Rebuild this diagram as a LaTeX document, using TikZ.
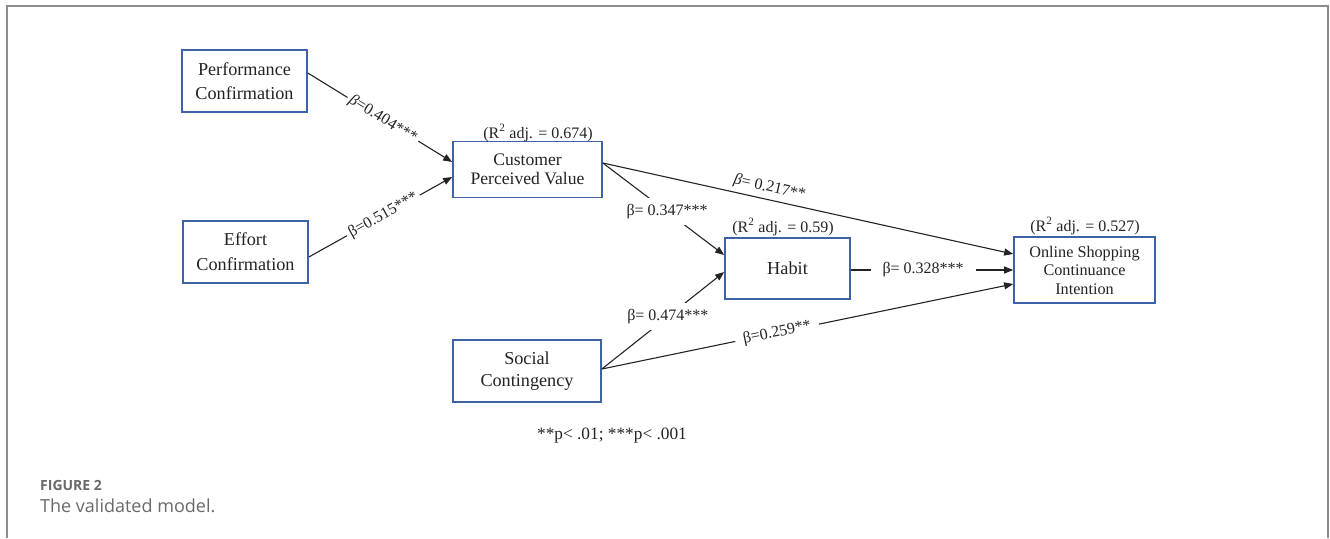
\documentclass[tikz,border=0pt]{standalone}
\usepackage{fontspec}
\setmainfont{Liberation Serif}
\newfontfamily\capfont{Open Sans}
\usetikzlibrary{arrows.meta,calc}
\definecolor{boxblue}{RGB}{62,98,168}
\definecolor{framegray}{RGB}{140,140,140}
\definecolor{capgray}{RGB}{105,105,105}
\definecolor{inkc}{RGB}{35,35,35}
\begin{document}
\begin{tikzpicture}[x=1pt,y=-1pt,
  box/.style={draw=boxblue,line width=1.7pt,inner sep=0pt,align=center,text=inkc},
  link/.style={draw=inkc,line width=1.1pt,-{Triangle[length=9pt,width=7pt]}},
  coef/.style={font=\fontsize{16}{18}\selectfont,text=inkc,fill=white,inner sep=3pt},
  rsq/.style={font=\fontsize{16}{18}\selectfont,text=inkc,inner sep=0pt}]
\useasboundingbox (0,0) rectangle (1330,538);
\draw[framegray,line width=1.5pt] (7,538) -- (7,6) -- (1328,6) -- (1328,538);

% boxes
\node[box,minimum width=125pt,minimum height=62pt,font=\fontsize{18.2}{24}\selectfont] (pc) at (244.5,81) {Performance\\Confirmation};
\node[box,minimum width=125pt,minimum height=62pt,font=\fontsize{18.2}{25}\selectfont] (ec) at (245.5,252) {Effort\\Confirmation};
\node[box,minimum width=149pt,minimum height=56pt,font=\fontsize{17.6}{19}\selectfont] (cpv) at (527.5,169.5) {Customer\\Perceived Value};
\node[box,minimum width=125pt,minimum height=61pt,font=\fontsize{18.3}{20}\selectfont] (habit) at (787.5,268.5) {Habit};
\node[box,minimum width=141pt,minimum height=66pt,font=\fontsize{16.2}{18.5}\selectfont] (osci) at (1084.5,270) {Online Shopping\\Continuance\\Intention};
\node[box,minimum width=148pt,minimum height=62pt,font=\fontsize{18.2}{22}\selectfont] (sc) at (527,371) {Social\\Contingency};

% R2 labels
\node[rsq] (r1) at (538,133) {(R\textsuperscript{2} adj. = 0.674)};
\node[rsq] (r2) at (783,227) {(R\textsuperscript{2} adj. = 0.59)};
\node[rsq] (r3) at (1085,226) {(R\textsuperscript{2} adj. = 0.527)};

% connectors
\draw[link] ($(pc.east)+(0,-8)$) -- node[coef,sloped,pos=0.52] {\textit{β}=0.404***} ($(cpv.west)+(0,-7.5)$);
\draw[link] ($(ec.east)+(0,5)$) -- node[coef,sloped,pos=0.52] {β=0.515***} ($(cpv.west)+(0,7.5)$);
\draw[link] ($(cpv.east)+(0,-6.5)$) -- node[coef,pos=0.53,inner xsep=1pt,inner ysep=6pt] {β= 0.347***} ($(habit.west)+(0,-13.5)$);
\draw[link] ($(cpv.east)+(0,-6.5)$) -- node[coef,sloped,pos=0.40,above=1pt,fill=none] {\textit{β}= 0.217**} ($(osci.west)+(0,-16)$);
\draw[link] ($(habit.east)+(0,1.5)$) -- node[coef,pos=0.445,inner xsep=12pt] {β= 0.328***} (osci.west);
\draw[link] ($(sc.east)+(0,-2)$) -- node[coef,pos=0.54,inner xsep=1pt,inner ysep=6pt] {β= 0.474***} ($(habit.west)+(0,3.5)$);
\draw[link] ($(sc.east)+(0,-2)$) -- node[coef,sloped,pos=0.426,inner xsep=8pt] {β=0.259**} ($(osci.west)+(0,14)$);

% footnote
\node[font=\fontsize{17.3}{19}\selectfont,text=inkc] (note) at (612,436) {**p\textless{} .01; ***p\textless{} .001};

% caption
\node[anchor=west,inner sep=0pt,font=\capfont\bfseries\fontsize{14}{16}\selectfont,text=capgray] (figlbl) at (40,485) {FIGURE 2};
\node[anchor=west,inner sep=0pt,font=\capfont\fontsize{18}{20}\selectfont,text=capgray] (figcap) at (40,506) {The validated model.};
\end{tikzpicture}
\end{document}
